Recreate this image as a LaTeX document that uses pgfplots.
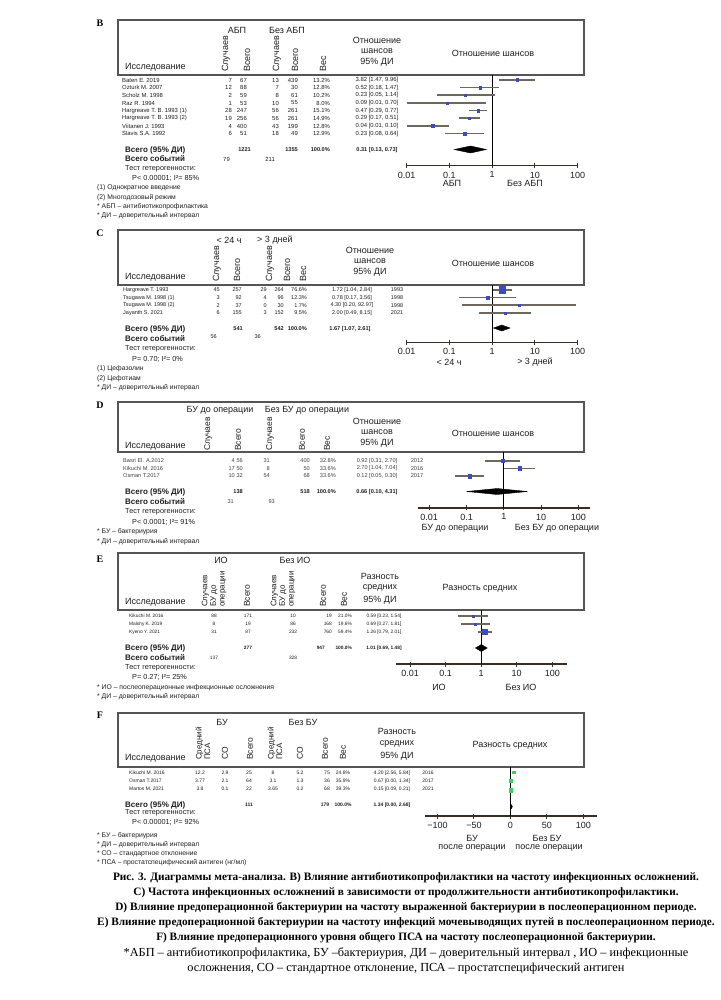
\documentclass[border=0pt]{standalone}
\usepackage{fontspec}
\setmainfont{Liberation Sans}
\newfontfamily\capfont{Liberation Serif}
\usepackage{graphicx}
\usepackage{pgfplots}
\pgfplotsset{compat=1.18}
\definecolor{axc}{HTML}{3A2E22}
\definecolor{cic}{HTML}{6E675C}
\definecolor{mk}{HTML}{3B4CC0}
\definecolor{gm}{HTML}{3AD35A}
\definecolor{bx}{HTML}{555555}
\definecolor{tx}{HTML}{1E1E1E}
\pgfplotsset{fp/.style={scale only axis, axis x line*=bottom, axis y line=none, clip=false,
  tick align=center, major tick length=5pt, xminorticks=false, ytick=\empty,
  major tick style={line width=1pt, color=axc},
  axis line style={line width=1.6pt, color=axc},
  xticklabel style={font=\fontsize{9}{10}\selectfont, text=tx}},
 logfp/.style={fp, xtick={0.01,0.1,1,10,100}, xticklabels={0.01,0.1,1,10,100}}}
\newcommand\fr[6]{%
  \addplot[color=cic, line width=1.6pt, forget plot] coordinates {(#3,#1) (#4,#1)};
  \addplot[only marks, mark=square*, mark size=#5, color=#6, forget plot] coordinates {(#2,#1)};}
\tikzset{
 hdr/.style={font=\fontsize{9}{10.5}\selectfont, inner sep=0pt, text=tx},
 rh/.style={font=\fontsize{8.5}{9.5}\selectfont, inner sep=0pt, text=tx, rotate=90, anchor=west, align=left},
 rw/.style={inner sep=0pt, text=tx},
 tot/.style={font=\bfseries\fontsize{8}{9}\selectfont, inner sep=0pt, anchor=west, text=tx},
 totn/.style={font=\bfseries\fontsize{5.6}{6}\selectfont, inner sep=0pt, text=tx},
 nt/.style={font=\fontsize{7.3}{8}\selectfont, inner sep=0pt, anchor=west, text=tx},
 fn/.style={font=\fontsize{6.8}{7}\selectfont, inner sep=0pt, anchor=west, text=tx},
 ax/.style={font=\fontsize{9}{10}\selectfont, inner sep=0pt, text=tx},
 plab/.style={font=\capfont\bfseries\fontsize{10}{11}\selectfont, inner sep=0pt},
 hbox/.style={draw=bx, line width=1.3pt},
 capb/.style={font=\capfont\bfseries\fontsize{11.3}{12}\selectfont, inner sep=0pt},
 capn/.style={font=\capfont\fontsize{12.3}{13}\selectfont, inner sep=0pt}}
% B rows: y name a b c d w ci
\newcommand\Brow[8]{%
 \node[rw,anchor=west] at (122,#1) {#2};
 \node[rw,anchor=east] at (232,#1) {#3};
 \node[rw,anchor=east] at (247,#1) {#4};
 \node[rw,anchor=east] at (279,#1) {#5};
 \node[rw,anchor=east] at (298,#1) {#6};
 \node[rw,anchor=east] at (330,#1) {#7};
 \node[rw] at (377,#1) {#8};}
\newcommand\Crow[9]{%
 \node[rw,anchor=west] at (123,#1) {#2};
 \node[rw,anchor=east] at (220,#1) {#3};
 \node[rw,anchor=east] at (242,#1) {#4};
 \node[rw,anchor=east] at (267,#1) {#5};
 \node[rw,anchor=east] at (284,#1) {#6};
 \node[rw,anchor=east] at (307,#1) {#7};
 \node[rw] at (352,#1) {#8};
 \node[rw] at (397,#1) {#9};}
\newcommand\Drow[9]{%
 \node[rw,anchor=west] at (123,#1) {#2};
 \node[rw,anchor=east] at (235,#1) {#3};
 \node[rw,anchor=east] at (243,#1) {#4};
 \node[rw,anchor=east] at (270,#1) {#5};
 \node[rw,anchor=east] at (310,#1) {#6};
 \node[rw,anchor=east] at (336,#1) {#7};
 \node[rw] at (377,#1) {#8};
 \node[rw] at (417,#1) {#9};}
\newcommand\Erow[8]{%
 \node[rw,anchor=west] at (129,#1) {#2};
 \node[rw] at (214,#1) {#3};
 \node[rw] at (248,#1) {#4};
 \node[rw] at (293,#1) {#5};
 \node[rw,anchor=east] at (332,#1) {#6};
 \node[rw,anchor=east] at (352,#1) {#7};
 \node[rw] at (384,#1) {#8};}
\newcommand\Frow[9]{%
 \node[rw,anchor=west] at (129,#1) {#2};
 \node[rw] at (200,#1) {#3};
 \node[rw] at (225,#1) {#4};
 \node[rw] at (249,#1) {#5};
 \node[rw] at (273,#1) {#6};
 \node[rw] at (300,#1) {#7};
 \node[rw] at (327,#1) {#8};
 \node[rw] at (343,#1) {#9};}
\begin{document}
\begin{tikzpicture}
\begin{scope}[x=1pt,y=-1pt]
\fill[white] (0,0) rectangle (720,1000);
%%%%%%%% B
\node[plab] at (100,23) {B};
\draw[hbox] (118,20) rectangle (584,75);
\node[hdr] at (237,30) {АБП};
\node[hdr] at (287,30) {Без АБП};
\node[hdr,rotate=90,anchor=west] at (226,72) {Случаев};
\node[hdr,rotate=90,anchor=west] at (247,72) {Всего};
\node[hdr,rotate=90,anchor=west] at (277,72) {Случаев};
\node[hdr,rotate=90,anchor=west] at (295,72) {Всего};
\node[hdr,rotate=90,anchor=west] at (323,72) {Вес};
\node[hdr,anchor=west] at (125,67) {Исследование};
\node[hdr] at (377,40) {Отношение};
\node[hdr] at (377,51) {шансов};
\node[hdr] at (377,62) {95\% ДИ};
\node[hdr] at (493,53) {Отношение шансов};
\begin{scope}[rw/.append style={font=\fontsize{5.9}{6}\selectfont}]
\Brow{80}{Baten E. 2019}{7}{67}{13}{439}{13.2\%}{3.82 [1.47, 9.96]}
\Brow{87.7}{Ozturk M. 2007}{12}{88}{7}{30}{12.8\%}{0.52 [0.18, 1.47]}
\Brow{95.3}{Scholz M. 1998}{2}{59}{8}{61}{10.2\%}{0.23 [0.05, 1.14]}
\Brow{103}{Raz R. 1994}{1}{53}{10}{55}{8.0\%}{0.09 [0.01, 0.70]}
\Brow{110.7}{Hargreave T. B. 1993 (1)}{28}{247}{56}{261}{15.1\%}{0.47 [0.29, 0.77]}
\Brow{118.3}{Hargreave T. B. 1993 (2)}{19}{256}{56}{261}{14.9\%}{0.29 [0.17, 0.51]}
\Brow{126}{Viitanen J. 1993}{4}{400}{43}{199}{12.8\%}{0.04 [0.01, 0.10]}
\Brow{133.7}{Slavis S.A. 1992}{6}{51}{18}{49}{12.9\%}{0.23 [0.08, 0.64]}
\node[rw,anchor=east] at (230,159) {79};
\node[rw,anchor=east] at (275,159) {211};
\end{scope}
\node[tot] at (125,150) {Всего (95\% ДИ)};
\node[totn,anchor=east] at (251,150) {1221};
\node[totn,anchor=east] at (298,150) {1355};
\node[totn,anchor=east] at (330,150) {100.0\%};
\node[totn] at (377,150) {0.31 [0.13, 0.73]};
\node[tot] at (125,159) {Всего событий};
\node[nt] at (125,169) {Тест гетерогенности:};
\node[nt] at (132,178) {P< 0.00001; I²= 85\%};
\node[fn] at (97,188) {(1) Однократное введение};
\node[fn] at (97,198) {(2) Многодозовый режим};
\node[fn] at (97,207) {* АБП – антибиотикопрофилактика};
\node[fn] at (97,216) {* ДИ – доверительный интервал};
\node[ax] at (452,183) {АБП};
\node[ax] at (525,183) {Без АБП};
%%%%%%%% C
\node[plab] at (100,233) {C};
\draw[hbox] (118,230) rectangle (584,285);
\node[hdr] at (229,240) {< 24 ч};
\node[hdr] at (275,240) {> 3 дней};
\node[hdr,rotate=90,anchor=west] at (217,282) {Случаев};
\node[hdr,rotate=90,anchor=west] at (237,282) {Всего};
\node[hdr,rotate=90,anchor=west] at (270,282) {Случаев};
\node[hdr,rotate=90,anchor=west] at (287,282) {Всего};
\node[hdr,rotate=90,anchor=west] at (303,282) {Вес};
\node[hdr,anchor=west] at (125,277) {Исследование};
\node[hdr] at (370,250) {Отношение};
\node[hdr] at (370,261) {шансов};
\node[hdr] at (370,272) {95\% ДИ};
\node[hdr] at (493,263) {Отношение шансов};
\begin{scope}[rw/.append style={font=\fontsize{5.5}{6}\selectfont}]
\Crow{290}{Hargreave T. 1993}{45}{257}{29}{264}{76.6\%}{1.72 [1.04, 2.84]}{1993}
\Crow{297.7}{Tsugawa M. 1998 (1)}{3}{92}{4}{96}{12.3\%}{0.78 [0.17, 3.56]}{1998}
\Crow{305.3}{Tsugawa M. 1998 (2)}{2}{37}{0}{30}{1.7\%}{4.30 [0.20, 92.97]}{1998}
\Crow{313}{Jayanth S. 2021}{6}{155}{3}{152}{9.5\%}{2.00 [0.49, 8.15]}{2021}
\node[rw,anchor=east] at (217,337) {56};
\node[rw,anchor=east] at (261,337) {36};
\end{scope}
\node[tot] at (125,329) {Всего (95\% ДИ)};
\node[totn,anchor=east] at (243,329) {541};
\node[totn,anchor=east] at (284,329) {542};
\node[totn,anchor=east] at (307,329) {100.0\%};
\node[totn] at (350,329) {1.67 [1.07, 2.61]};
\node[tot] at (125,339) {Всего событий};
\node[nt] at (125,349) {Тест гетерогенности:};
\node[nt] at (132,359) {P= 0.70; I²= 0\%};
\node[fn] at (97,369) {(1) Цефазолин};
\node[fn] at (97,379) {(2) Цефотиам};
\node[fn] at (97,388) {* ДИ – доверительный интервал};
\node[ax] at (449,362) {< 24 ч};
\node[ax] at (535,362) {> 3 дней};
%%%%%%%% D
\node[plab] at (100,405) {D};
\draw[hbox] (118,402) rectangle (584,452);
\node[hdr] at (220,410) {БУ до операции};
\node[hdr] at (307,410) {Без БУ до операции};
\node[rh] at (208,451) {Случаев};
\node[rh] at (238,451) {Всего};
\node[rh] at (270,451) {Случаев};
\node[rh] at (302,451) {Всего};
\node[rh] at (327,451) {Вес};
\node[hdr,anchor=west] at (125,446) {Исследование};
\node[hdr] at (377,421) {Отношение};
\node[hdr] at (377,432) {шансов};
\node[hdr] at (377,443) {95\% ДИ};
\node[hdr] at (493,433) {Отношение шансов};
\begin{scope}[rw/.append style={font=\fontsize{5.6}{6}\selectfont, text=black!75}]
\Drow{460.7}{Basri El. A.2012}{4}{56}{31}{400}{32.8\%}{0.92 [0.31, 2.70]}{2012}
\Drow{468.3}{Kikuchi M. 2016}{17}{50}{8}{50}{33.6\%}{2.70 [1.04, 7.04]}{2016}
\Drow{476}{Osman T.2017}{10}{32}{54}{68}{33.6\%}{0.12 [0.05, 0.30]}{2017}
\node[rw,anchor=east] at (234,502) {31};
\node[rw,anchor=east] at (275,502) {93};
\end{scope}
\node[tot] at (125,492) {Всего (95\% ДИ)};
\node[totn,anchor=east] at (243,492) {138};
\node[totn,anchor=east] at (310,492) {518};
\node[totn,anchor=east] at (336,492) {100.0\%};
\node[totn] at (377,492) {0.66 [0.10, 4.31]};
\node[tot] at (125,502) {Всего событий};
\node[nt] at (125,512) {Тест гетерогенности:};
\node[nt] at (132,522) {P< 0.0001; I²= 91\%};
\node[fn] at (97,532) {* БУ – бактериурия};
\node[fn] at (97,542) {* ДИ – доверительный интервал};
\node[ax] at (455,528) {БУ до операции};
\node[ax] at (557,528) {Без БУ до операции};
%%%%%%%% E
\node[plab] at (100,559) {E};
\draw[hbox] (118,553) rectangle (584,610);
\node[hdr] at (221,560) {ИО};
\node[hdr] at (295,560) {Без ИО};
\node[rh,font=\fontsize{8}{8.6}\selectfont] at (214,607) {Случаев\\БУ до\\операции};
\node[rh] at (247,607) {Всего};
\node[rh,font=\fontsize{8}{8.6}\selectfont] at (283,607) {Случаев\\БУ до\\операции};
\node[rh] at (323,607) {Всего};
\node[rh] at (344,607) {Вес};
\node[hdr,anchor=west] at (125,602) {Исследование};
\node[hdr] at (380,576) {Разность};
\node[hdr] at (380,588) {средних};
\node[hdr] at (380,600) {95\% ДИ};
\node[hdr] at (480,588) {Разность средних};
\begin{scope}[rw/.append style={font=\fontsize{4.8}{5}\selectfont}]
\Erow{616}{Kikuchi M. 2016}{88}{171}{10}{19}{21.0\%}{0.59 [0.23, 1.54]}
\Erow{624}{Malshy K. 2019}{8}{19}{86}{168}{19.6\%}{0.69 [0.27, 1.81]}
\Erow{632}{Kyeno Y. 2021}{31}{87}{232}{760}{59.4\%}{1.26 [0.79, 2.01]}
\node[rw] at (214,658) {137};
\node[rw] at (293,658) {328};
\end{scope}
\node[tot] at (125,648) {Всего (95\% ДИ)};
\node[totn,font=\bfseries\fontsize{4.8}{5}\selectfont] at (248,648) {277};
\node[totn,anchor=east,font=\bfseries\fontsize{4.8}{5}\selectfont] at (325,648) {947};
\node[totn,anchor=east,font=\bfseries\fontsize{4.8}{5}\selectfont] at (352,648) {100.0\%};
\node[totn,font=\bfseries\fontsize{4.8}{5}\selectfont] at (384,648) {1.01 [0.69, 1.48]};
\node[tot] at (125,658) {Всего событий};
\node[nt] at (125,668) {Тест гетерогенности:};
\node[nt] at (132,677) {P= 0.27; I²= 25\%};
\node[fn] at (97,688) {* ИО – послеоперационные инфекционные осложнения};
\node[fn] at (97,697) {* ДИ – доверительный интервал};
\node[ax] at (439,687) {ИО};
\node[ax] at (521,687) {Без ИО};
%%%%%%%% F
\node[plab] at (100,715) {F};
\draw[hbox] (118,713) rectangle (584,767);
\node[hdr] at (222,722) {БУ};
\node[hdr] at (303,722) {Без БУ};
\node[rh,font=\fontsize{8}{8.6}\selectfont] at (203,760) {Средний\\ПСА};
\node[rh] at (225,760) {СО};
\node[rh] at (250,760) {Всего};
\node[rh,font=\fontsize{8}{8.6}\selectfont] at (275,760) {Средний\\ПСА};
\node[rh] at (300,760) {СО};
\node[rh] at (325,760) {Всего};
\node[rh] at (343,760) {Вес};
\node[hdr,anchor=west] at (125,758) {Исследование};
\node[hdr] at (397,731) {Разность};
\node[hdr] at (397,744) {средних};
\node[hdr] at (397,756) {95\% ДИ};
\node[hdr] at (510,745) {Разность средних};
\begin{scope}[rw/.append style={font=\fontsize{5}{5.5}\selectfont}]
\Frow{773}{Kikuchi M. 2016}{12.2}{2.9}{25}{8}{5.2}{75}{24.8\%}
\node[rw] at (392,773) {4.20 [2.56, 5.84]}; \node[rw] at (428,773) {2016};
\Frow{781}{Osman T.2017}{3.77}{2.1}{64}{3.1}{1.3}{36}{35.9\%}
\node[rw] at (392,781) {0.67 [0.00, 1.34]}; \node[rw] at (428,781) {2017};
\Frow{789}{Martos M. 2021}{3.8}{0.1}{22}{3.65}{0.2}{68}{39.3\%}
\node[rw] at (392,789) {0.15 [0.09, 0.21]}; \node[rw] at (428,789) {2021};
\end{scope}
\node[tot] at (125,805) {Всего (95\% ДИ)};
\node[totn,font=\bfseries\fontsize{5}{5.5}\selectfont] at (249,805) {111};
\node[totn,font=\bfseries\fontsize{5}{5.5}\selectfont] at (325,805) {179};
\node[totn,font=\bfseries\fontsize{5}{5.5}\selectfont] at (343,805) {100.0\%};
\node[totn,font=\bfseries\fontsize{5}{5.5}\selectfont] at (392,805) {1.34 [0.00, 2.68]};
\node[nt] at (125,813) {Тест гетерогенности:};
\node[nt] at (132,822) {P< 0.00001; I²= 92\%};
\node[fn] at (97,836) {* БУ – бактериурия};
\node[fn] at (97,845) {* ДИ – доверительный интервал};
\node[fn] at (97,854) {* СО – стандартное отклонение};
\node[fn] at (97,863) {* ПСА – простатспецифический антиген (нг/мл)};
\node[ax] at (472,838) {БУ};
\node[ax] at (472,848) {после операции};
\node[ax] at (547,838) {Без БУ};
\node[ax] at (549,848) {после операции};
%%%%%%%% caption
\node[capb] at (406,878) {Рис. 3. Диаграммы мета-анализа. В) Влияние антибиотикопрофилактики на частоту инфекционных осложнений.};
\node[capb] at (406,893) {С) Частота инфекционных осложнений в зависимости от продолжительности антибиотикопрофилактики.};
\node[capb] at (406,908) {D) Влияние предоперационной бактериурии на частоту выраженной бактериурии в послеоперационном периоде.};
\node[capb] at (406,923) {E) Влияние предоперационной бактериурии на частоту инфекций мочевыводящих путей в послеоперационном периоде.};
\node[capb] at (406,938) {F) Влияние предоперационного уровня общего ПСА на частоту послеоперационной бактериурии.};
\node[capn] at (406,953.5) {*АБП – антибиотикопрофилактика, БУ –бактериурия, ДИ – доверительный интервал , ИО – инфекционные};
\node[capn] at (406,969) {осложнения, СО – стандартное отклонение, ПСА – простатспецифический антиген};
\end{scope}
%%%%%%%% B plot
\begin{axis}[xmode=log, logfp, at={(406.7pt,-165.7pt)}, anchor=south west, width=171pt, height=90.7pt,
  xmin=0.01, xmax=100, ymin=-165.7, ymax=-75]
\addplot[black, line width=1.2pt, forget plot] coordinates {(1,-75) (1,-165.7)};
\fr{-80}{3.82}{1.47}{9.96}{1.3}{mk}
\fr{-87.7}{0.52}{0.18}{1.47}{1.3}{mk}
\fr{-95.3}{0.23}{0.05}{1.14}{1.15}{mk}
\fr{-103}{0.09}{0.01}{0.70}{1.0}{mk}
\fr{-110.7}{0.47}{0.29}{0.77}{1.4}{mk}
\fr{-118.3}{0.29}{0.17}{0.51}{1.4}{mk}
\fr{-126}{0.04}{0.01}{0.10}{1.3}{mk}
\fr{-133.7}{0.23}{0.08}{0.64}{1.3}{mk}
\addplot[fill=black, draw=black, forget plot] coordinates {(0.13,-149.5) (0.31,-146) (0.73,-149.5) (0.31,-153)} -- cycle;
\end{axis}
%%%%%%%% C plot
\begin{axis}[xmode=log, logfp, at={(406.7pt,-342.3pt)}, anchor=south west, width=171pt, height=57.3pt,
  xmin=0.01, xmax=100, ymin=-342.3, ymax=-285]
\addplot[black, line width=1.2pt, forget plot] coordinates {(1,-285) (1,-342.3)};
\fr{-290}{1.72}{1.04}{2.84}{3.4}{mk}
\fr{-297.7}{0.78}{0.17}{3.56}{1.2}{mk}
\fr{-305.3}{4.30}{0.20}{92.97}{0.7}{mk}
\fr{-313}{2.00}{0.49}{8.15}{1.0}{mk}
\addplot[fill=black, draw=black, forget plot] coordinates {(1.07,-328) (1.67,-325) (2.61,-328) (1.67,-331)} -- cycle;
\end{axis}
%%%%%%%% D plot
\begin{axis}[xmode=log, logfp, at={(418pt,-507.7pt)}, anchor=south west, width=172pt, height=55.7pt,
  xmin=0.005, xmax=205, ymin=-507.7, ymax=-452]
\addplot[black, line width=1.2pt, forget plot] coordinates {(1,-452) (1,-507.7)};
\fr{-460.7}{0.92}{0.31}{2.70}{1.7}{mk}
\fr{-468.3}{2.70}{1.04}{7.04}{1.7}{mk}
\fr{-476}{0.12}{0.05}{0.30}{1.7}{mk}
\addplot[fill=black, draw=black, forget plot] coordinates {(0.10,-491.5) (0.66,-488.5) (4.31,-491.5) (0.66,-494.5)} -- cycle;
\end{axis}
%%%%%%%% E plot
\begin{axis}[xmode=log, logfp, at={(395.5pt,-664pt)}, anchor=south west, width=171.5pt, height=54pt,
  xmin=0.0039, xmax=259, ymin=-664, ymax=-610]
\addplot[black, line width=1.2pt, forget plot] coordinates {(1,-610) (1,-664)};
\fr{-616}{0.59}{0.23}{1.54}{1.2}{mk}
\fr{-624}{0.69}{0.27}{1.81}{1.2}{mk}
\fr{-632}{1.26}{0.79}{2.01}{2.6}{mk}
\addplot[fill=black, draw=black, forget plot] coordinates {(0.69,-648) (1.01,-644.5) (1.48,-648) (1.01,-651.5)} -- cycle;
\end{axis}
%%%%%%%% F plot
\begin{axis}[fp, at={(425pt,-816pt)}, anchor=south west, width=172.3pt, height=49pt,
  xmin=-117, xmax=119, ymin=-816, ymax=-767,
  xtick={-100,-50,0,50,100}, xticklabels={−100,−50,0,50,100}]
\addplot[black, line width=1.2pt, forget plot] coordinates {(0,-767) (0,-816)};
\fr{-772}{4.20}{2.56}{5.84}{1.3}{gm}
\fr{-781}{0.67}{0.00}{1.34}{1.6}{gm}
\fr{-790}{0.15}{0.09}{0.21}{1.8}{gm}
\addplot[fill=black, draw=black, forget plot] coordinates {(0.00,-806.7) (1.34,-804.7) (2.68,-806.7) (1.34,-808.7)} -- cycle;
\end{axis}
\end{tikzpicture}
\end{document}
